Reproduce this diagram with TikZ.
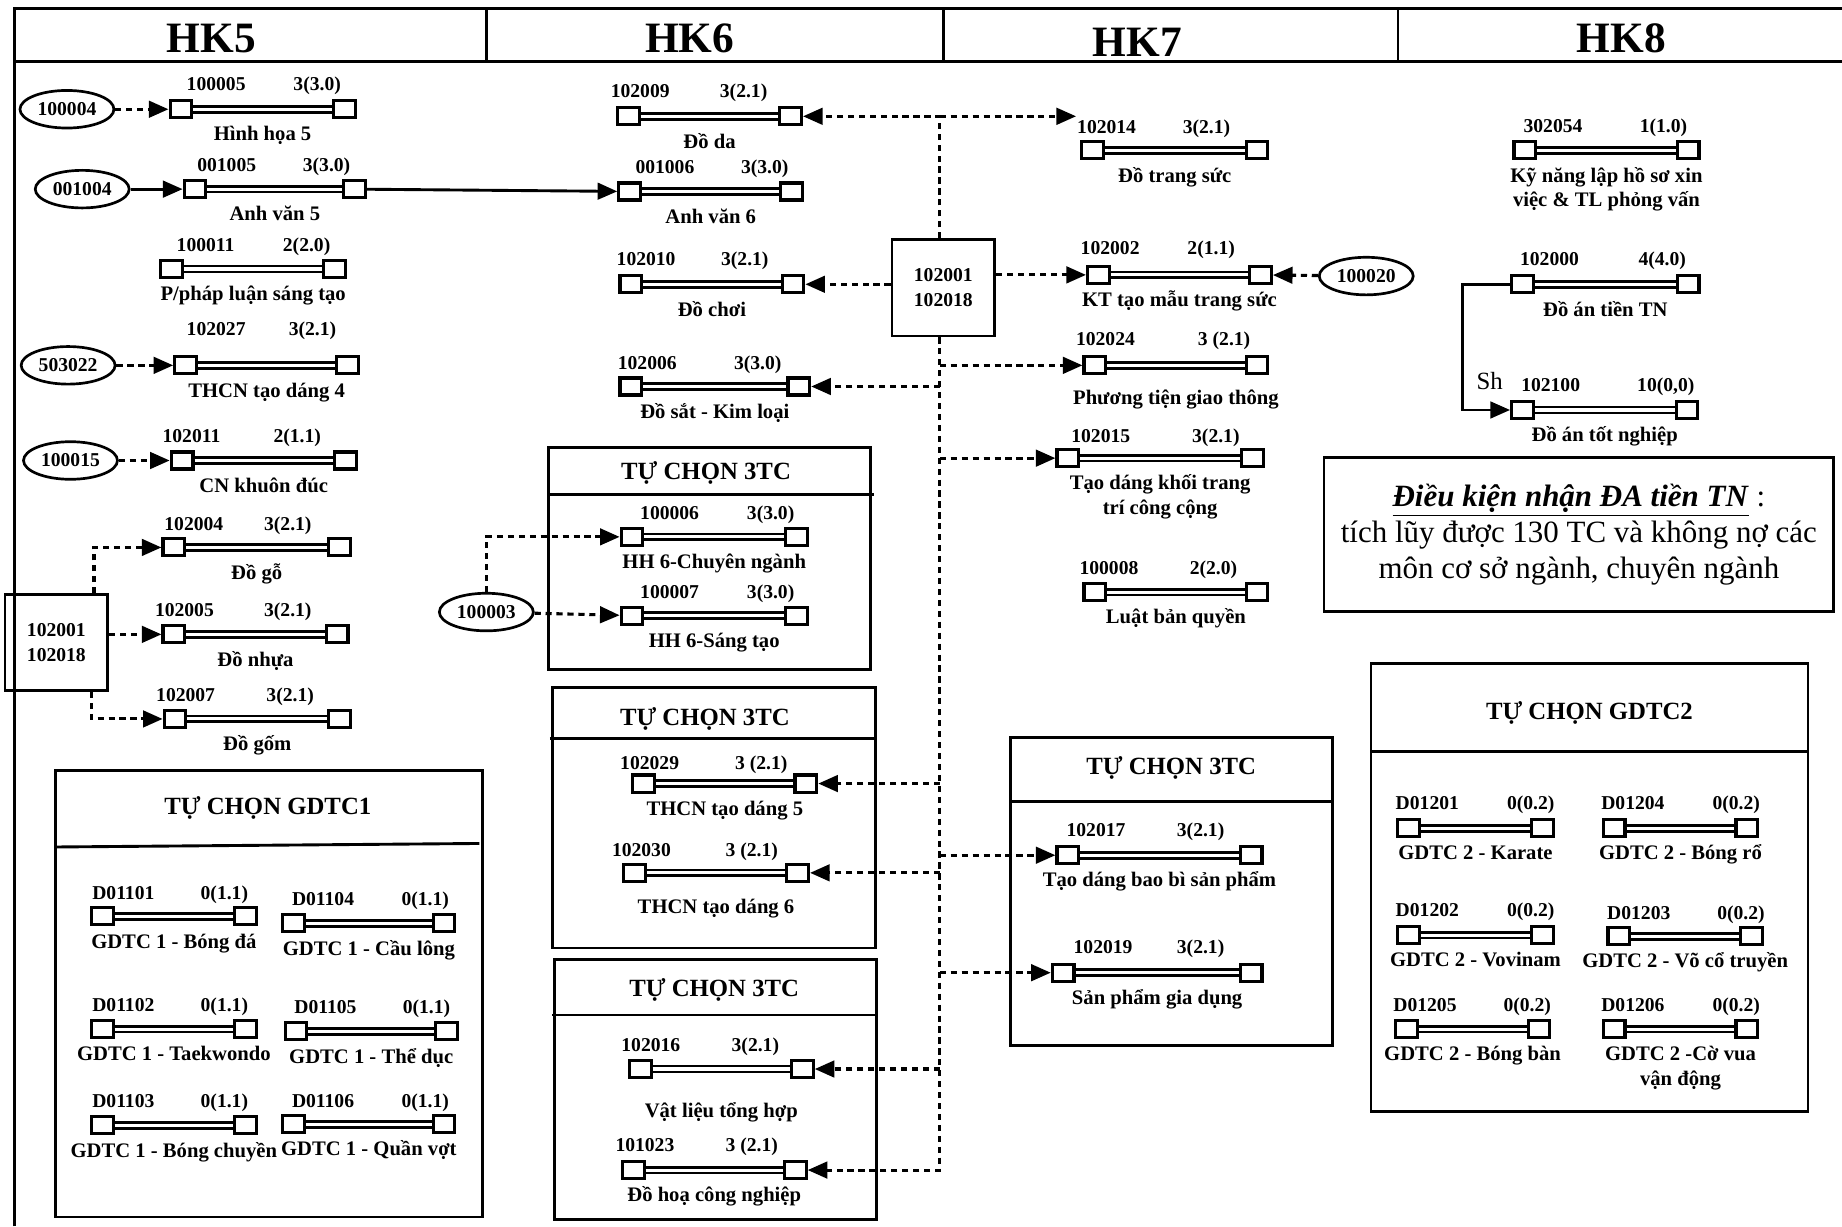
\documentclass[tikz,border=0pt]{standalone}
\usepackage{fontspec}
\setmainfont{Liberation Serif}
\usetikzlibrary{arrows.meta,shapes.geometric}

\tikzset{
  sq/.style={draw, line width=1.5pt, fill=white, minimum width=0.37cm, minimum height=0.29cm, inner sep=0pt},
  link/.style={double, line width=1.35pt, double distance=1.5pt},
  lbl/.style={font=\bfseries\fontsize{9.5}{12}\selectfont, inner sep=0pt, text height=7pt, text depth=2pt},
  ttl/.style={font=\bfseries\fontsize{10}{12}\selectfont, inner sep=0pt, anchor=base},
  prereq/.style={draw, ellipse, line width=1.3pt, minimum width=1.6cm, minimum height=0.64cm, inner sep=0pt, font=\bfseries\fontsize{9.5}{12}\selectfont},
  group/.style={draw, line width=1.3pt, minimum width=1.75cm, minimum height=1.64cm, align=center, font=\bfseries\fontsize{9.5}{12}\selectfont},
  dep/.style={line width=1.5pt, dash pattern=on 3pt off 2.3pt},
  req/.style={line width=1.4pt},
  frm/.style={line width=1.4pt},
  hk/.style={font=\bfseries\fontsize{21}{24}\selectfont},
  boxttl/.style={font=\bfseries\fontsize{12}{14}\selectfont},
  >={Triangle[length=9.5pt,width=8pt]}
}

% mot mon hoc: ten, x trai, x phai, y, vi tri ma, vi tri tin chi, ma, tin chi, ten mon
\newcommand{\course}[9]{%
  \node[sq] (#1-l) at (#2,#4) {};
  \node[sq] (#1-r) at (#3,#4) {};
  \draw[link] (#1-l) -- (#1-r);
  \node[lbl] (#1-code) at (#5) {#7};
  \node[lbl] (#1-cr) at (#6) {#8};
  \node[ttl] (#1-name) at ({(#2+#3)/2},#4+27) {\begin{tabular}[t]{@{}c@{}}#9\end{tabular}};
}

\begin{document}
\begin{tikzpicture}[x=0.02cm, y=-0.02cm]
\useasboundingbox (0,0) rectangle (1568,1044);

% khung va tieu de hoc ky
\draw[frm] (12,1044) -- (12,7) -- (1568,7);
\draw[frm] (12,52) -- (1568,52);
\draw[frm] (414,7) -- (414,52);
\draw[frm] (803,7) -- (803,52);
\draw[frm] (1190,7) -- (1190,52);
\node[hk] (hk5) at (180,33) {HK5};
\node[hk] (hk6) at (587,33) {HK6};
\node[hk] (hk7) at (968,36) {HK7};
\node[hk] (hk8) at (1380,33) {HK8};

% HK5
\course{hh5}{154}{293}{93}{184,73}{270,73}{100005}{3(3.0)}{Hình họa 5}
\course{av5}{166}{302}{161}{193,142}{278,142}{001005}{3(3.0)}{Anh văn 5}
\course{ppl}{146}{285}{229}{175,210}{261,210}{100011}{2(2.0)}{P/pháp luận sáng tạo}
\course{tc4}{158}{296}{311}{184,281}{266,281}{102027}{3(2.1)}{THCN tạo dáng 4}
\course{cnk}{155}{294}{392}{163,372}{253,372}{102011}{2(1.1)}{CN khuôn đúc}
\course{dgo}{148}{289}{466}{165,447}{245,447}{102004}{3(2.1)}{Đồ gỗ}
\course{dnh}{148}{287}{540}{157,520}{245,520}{102005}{3(2.1)}{Đồ nhựa}
\course{dgm}{149}{289}{612}{158,593}{247,593}{102007}{3(2.1)}{Đồ gốm}

\node[prereq] (e100004) at (57,93) {100004};
\node[prereq] (e001004) at (70,161) {001004};
\node[prereq] (e503022) at (58,311) {503022};
\node[prereq] (e100015) at (60,392) {100015};
\node[group] (b5) at (48,547) {102001\\102018};

\draw[dep,->] (e100004) -- (hh5-l);
\draw[req,->] (e001004) -- (av5-l);
\draw[dep,->] (e503022) -- (tc4-l);
\draw[dep,->] (e100015) -- (cnk-l);
\draw[dep,->] ([xshift=0.64cm]b5.north) |- (dgo-l);
\draw[dep,->] (b5.east |- dnh-l) -- (dnh-l);
\draw[dep,->] ([xshift=0.6cm]b5.south) |- (dgm-l);

% tu chon GDTC1
\draw[frm] (47,656) rectangle (411,1036);
\draw[frm] (47,721) -- (408,718);
\node[boxttl] (gd1) at (228,688) {TỰ CHỌN GDTC1};
\course{d1101}{87}{209}{780}{105,761}{191,761}{D01101}{0(1.1)}{GDTC 1 - Bóng đá}
\course{d1104}{250}{378}{786}{275,766}{362,766}{D01104}{0(1.1)}{GDTC 1 - Cầu lông}
\course{d1102}{87}{209}{876}{105,857}{191,857}{D01102}{0(1.1)}{GDTC 1 - Taekwondo}
\course{d1105}{252}{380}{878}{277,858}{363,858}{D01105}{0(1.1)}{GDTC 1 - Thể dục}
\course{d1103}{87}{209}{958}{105,938}{191,938}{D01103}{0(1.1)}{GDTC 1 - Bóng chuyền}
\course{d1106}{250}{378}{957}{275,938}{362,938}{D01106}{0(1.1)}{GDTC 1 - Quần vợt}

% HK6
\course{dda}{535}{673}{99}{545,79}{633,79}{102009}{3(2.1)}{Đồ da}
\course{av6}{536}{674}{163}{566,143}{651,143}{001006}{3(3.0)}{Anh văn 6}
\course{dch}{537}{675}{242}{550,222}{634,222}{102010}{3(2.1)}{Đồ chơi}
\course{dsk}{537}{680}{329}{551,310}{645,310}{102006}{3(3.0)}{Đồ sắt - Kim loại}
\node[group] (b6) at (803,245) {102001\\102018};

\draw[req,->] (av5-r) -- (av6-l);

\draw[frm] (467,381) rectangle (741,570);
\draw[frm] (467,421) -- (744,421);
\node[boxttl] (tc3a) at (601,403) {TỰ CHỌN 3TC};
\course{hhcn}{538}{678}{457}{570,438}{656,438}{100006}{3(3.0)}{HH 6-Chuyên ngành}
\course{hhst}{538}{678}{524}{570,505}{656,505}{100007}{3(3.0)}{HH 6-Sáng tạo}
\node[prereq] (e100003) at (414,521) {100003};
\draw[dep,->] (e100003.north) |- (hhcn-l);
\draw[dep,->] (e100003) -- (hhst-l);

\draw[frm] (470,585) rectangle (745,807);
\draw[frm] (468,629) -- (745,629);
\node[boxttl] (tc3b) at (600,612) {TỰ CHỌN 3TC};
\course{tc5}{548}{686}{667}{553,651}{648,651}{102029}{3 (2.1)}{THCN tạo dáng 5}
\course{tc6}{540}{679}{743}{546,725}{640,725}{102030}{3 (2.1)}{\raisebox{-4.5pt}{THCN tạo dáng 6}}

\draw[frm] (472,817) rectangle (746,1038);
\draw[frm] (470,864) -- (746,864);
\node[boxttl] (tc3c) at (608,843) {TỰ CHỌN 3TC};
\course{vlth}{545}{683}{910}{554,891}{643,891}{102016}{3(2.1)}{\raisebox{-8pt}{Vật liệu tổng hợp}}
\course{dhcn}{539}{677}{996}{549,976}{640,976}{101023}{3 (2.1)}{Đồ hoạ công nghiệp}

% HK7
\course{dts}{930}{1070}{128}{942,109}{1027,109}{102014}{3(2.1)}{Đồ trang sức}
\course{ktm}{935}{1073}{234}{945,212}{1031,212}{102002}{2(1.1)}{KT tạo mẫu trang sức}
\course{ptgt}{932}{1070}{311}{941,290}{1042,290}{102024}{3 (2.1)}{\raisebox{-3.5pt}{Phương tiện giao thông}}
\course{tdk}{909}{1066}{390}{937,372}{1035,372}{102015}{3(2.1)}{Tạo dáng khối trang\\trí công cộng}
\course{lbq}{932}{1070}{504}{944,485}{1033,485}{100008}{2(2.0)}{Luật bản quyền}
\node[prereq] (e100020) at (1163,235) {100020};
\draw[dep,->] (e100020) -- (ktm-r);

\draw[frm] (860,628) rectangle (1134,890);
\draw[frm] (860,682) -- (1134,682);
\node[boxttl] (tc3d) at (997,654) {TỰ CHỌN 3TC};
\course{tdbb}{909}{1065}{728}{933,708}{1022,708}{102017}{3(2.1)}{Tạo dáng bao bì sản phẩm}
\course{spgd}{905}{1065}{828}{939,807}{1022,807}{102019}{3(2.1)}{Sản phẩm gia dụng}

% duong tien quyet tu 102001/102018
\coordinate (trunk) at (800,0);
\coordinate (dts-tip) at (916,99);
\draw[dep,->] (trunk |- b6.north) |- (dda-r);
\draw[dep,->] (trunk |- dda-r) -- (dts-tip);
\draw[dep,->] (b6.west |- dch-r) -- (dch-r);
\draw[dep,->] (b6.east |- ktm-l) -- (ktm-l);
\draw[dep,->] (trunk |- b6.south) |- (dhcn-r);
\foreach \c in {dsk-r, tc5-r, tc6-r, vlth-r, ptgt-l, tdk-l, tdbb-l, spgd-l}
  \draw[dep,->] (trunk |- \c) -- (\c);

% HK8
\course{kn}{1298}{1437}{128}{1322,108}{1416,108}{302054}{1(1.0)}{Kỹ năng lập hồ sơ xin\\việc \& TL phỏng vấn}
\course{datn0}{1296}{1437}{242}{1319,222}{1415,222}{102000}{4(4.0)}{Đồ án tiền TN}
\course{datn}{1296}{1436}{349}{1320,329}{1418,329}{102100}{10(0,0)}{Đồ án tốt nghiệp}
\coordinate (shc) at (1245,349);
\draw[req,->] (datn0-l) -| (shc) -- (datn-l);
\node[font=\fontsize{12}{14}\selectfont] (sh) at (1268,324) {Sh};

\node[draw, line width=1.4pt, minimum width=8.68cm, minimum height=2.62cm, align=center,
  font=\fontsize{15}{17.5}\selectfont] (dk) at (1344,455)
  {\underline{\textbf{\textit{Điều kiện nhận ĐA tiền TN}}} :\\tích lũy được 130 TC và không nợ các\\môn cơ sở ngành, chuyên ngành};

% tu chon GDTC2
\draw[frm] (1167,565) rectangle (1539,946);
\draw[frm] (1167,640) -- (1539,640);
\node[boxttl] (gd2) at (1353,607) {TỰ CHỌN GDTC2};
\course{d1201}{1199}{1313}{705}{1215,685}{1303,685}{D01201}{0(0.2)}{GDTC 2 - Karate}
\course{d1204}{1374}{1487}{705}{1390,685}{1478,685}{D01204}{0(0.2)}{GDTC 2 - Bóng rổ}
\course{d1202}{1199}{1313}{796}{1215,776}{1303,776}{D01202}{0(0.2)}{GDTC 2 - Vovinam}
\course{d1203}{1378}{1491}{797}{1395,778}{1482,778}{D01203}{0(0.2)}{GDTC 2 - Võ cổ truyền}
\course{d1205}{1197}{1310}{876}{1213,857}{1300,857}{D01205}{0(0.2)}{GDTC 2 - Bóng bàn}
\course{d1206}{1374}{1487}{876}{1390,857}{1478,857}{D01206}{0(0.2)}{GDTC 2 -Cờ vua\\vận động}

\end{tikzpicture}
\end{document}
